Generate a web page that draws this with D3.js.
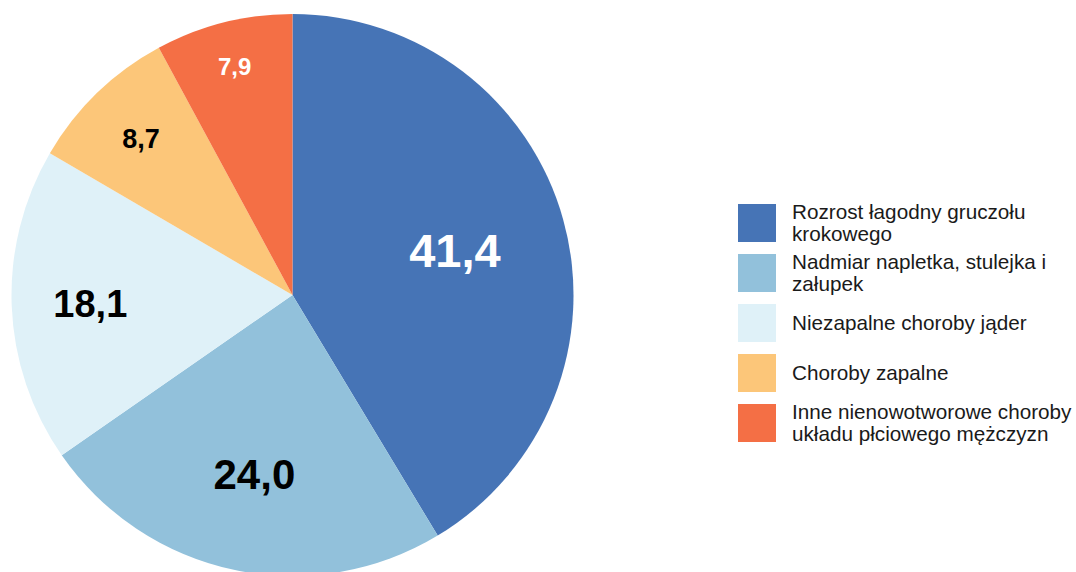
<!DOCTYPE html>
<html>
<head>
<meta charset="utf-8">
<script src="https://cdn.jsdelivr.net/npm/d3@7"></script>
<style>
  html, body { margin: 0; padding: 0; background: #ffffff; }
  svg { display: block; font-family: "Liberation Sans", Arial, sans-serif; }
</style>
</head>
<body>
<svg id="chart" width="1076" height="572"></svg>
<script>
// ---- data ----
const categories = [
  "Rozrost łagodny gruczołu krokowego",
  "Nadmiar napletka, stulejka i załupek",
  "Niezapalne choroby jąder",
  "Choroby zapalne",
  "Inne nienowotworowe choroby układu płciowego mężczyzn"
];
const values = [41.4, 24.0, 18.1, 8.7, 7.9];
const valueLabels = ["41,4", "24,0", "18,1", "8,7", "7,9"];

// ---- styles ----
const colors = ["#4674b6", "#92c1db", "#dff1f8", "#fcc679", "#f46f45"];
const labelColors = ["#ffffff", "#000000", "#000000", "#000000", "#ffffff"];
const labelSizes = [47, 42, 38, 27, 24];
const labelRadiusFrac = [0.6, 0.65, 0.72, 0.775, 0.84];

const svg = d3.select("#chart");
const cx = 292.5, cy = 295, R = 281;

const pie = d3.pie().sort(null).value(d => d.value);
const data = categories.map((c, i) => ({ name: c, value: values[i], label: valueLabels[i], i }));
const arcs = pie(data);
const arc = d3.arc().innerRadius(0).outerRadius(R);

const g = svg.append("g").attr("transform", `translate(${cx},${cy})`);
g.selectAll("path.slice")
  .data(arcs)
  .join("path")
  .attr("class", "slice")
  .attr("d", arc)
  .attr("fill", d => colors[d.data.i]);

g.selectAll("text.val")
  .data(arcs)
  .join("text")
  .attr("class", "val")
  .attr("transform", d => {
    const r = R * labelRadiusFrac[d.data.i];
    const c = d3.arc().innerRadius(r).outerRadius(r).centroid(d);
    return `translate(${c[0]},${c[1]})`;
  })
  .attr("text-anchor", "middle")
  .attr("dy", "0.36em")
  .attr("font-weight", "bold")
  .attr("font-size", d => labelSizes[d.data.i])
  .attr("fill", d => labelColors[d.data.i])
  .text(d => d.data.label);

// ---- legend ----
const legX = 738, legY0 = 204, legStep = 50, sw = 38;
const textX = 792, fontSize = 20.7, lineH = 22, maxW = 300;

const leg = svg.append("g");
const items = leg.selectAll("g.item")
  .data(data)
  .join("g")
  .attr("class", "item")
  .attr("transform", (d, i) => `translate(0,${legY0 + i * legStep})`);

items.append("rect")
  .attr("x", legX)
  .attr("y", 0)
  .attr("width", sw)
  .attr("height", sw)
  .attr("fill", d => colors[d.i]);

items.each(function(d) {
  const gi = d3.select(this);
  const t = gi.append("text")
    .attr("x", textX)
    .attr("font-size", fontSize)
    .attr("fill", "#1a1a1a");
  // word wrap
  const words = d.name.split(" ");
  const lines = [];
  let cur = "";
  const probe = t.append("tspan");
  words.forEach(w => {
    const test = cur ? cur + " " + w : w;
    probe.text(test);
    if (probe.node().getComputedTextLength() > maxW && cur) {
      lines.push(cur);
      cur = w;
    } else {
      cur = test;
    }
  });
  if (cur) lines.push(cur);
  probe.remove();
  const n = lines.length;
  lines.forEach((ln, k) => {
    t.append("tspan")
      .attr("x", textX)
      .attr("y", sw / 2 + 6.5 + (k - (n - 1) / 2) * lineH)
      .text(ln);
  });
});
</script>
</body>
</html>
